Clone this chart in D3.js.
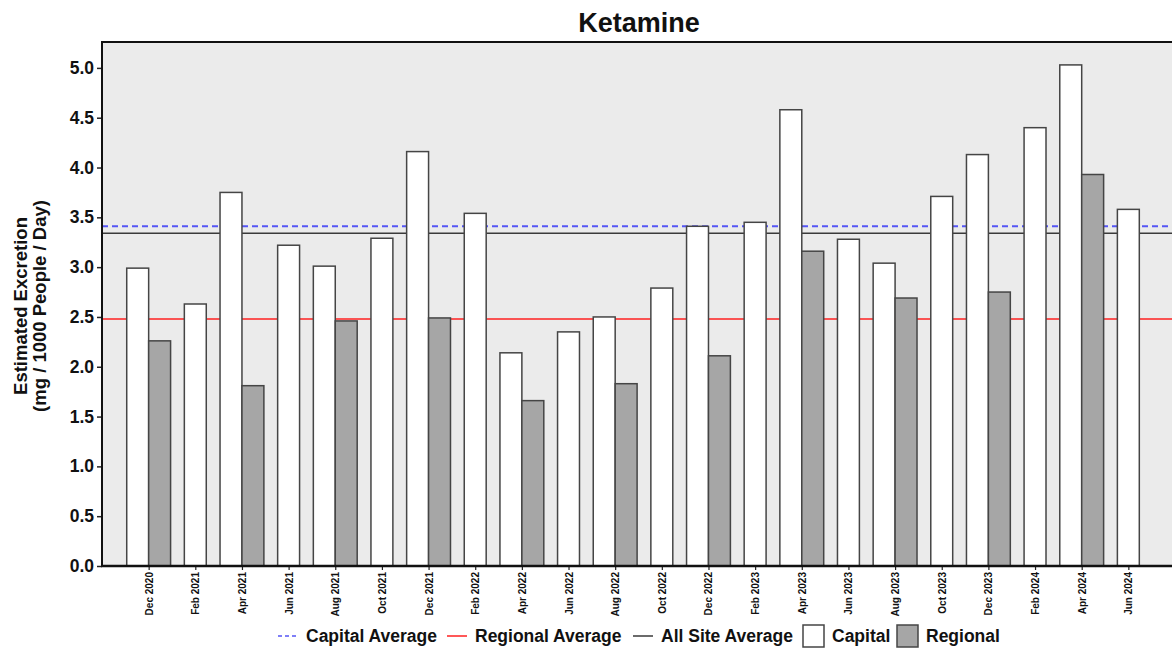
<!DOCTYPE html>
<html>
<head>
<meta charset="utf-8">
<script src="https://cdn.jsdelivr.net/npm/d3@7"></script>
<style>
  body { margin: 0; background: #fff; }
  text { font-family: "Liberation Sans", Arial, sans-serif; font-weight: bold; }
</style>
</head>
<body>
<div id="chart"></div>
<script>
// sampling periods (every two months)
var months = ["Dec 2020","Feb 2021","Apr 2021","Jun 2021","Aug 2021","Oct 2021","Dec 2021",
  "Feb 2022","Apr 2022","Jun 2022","Aug 2022","Oct 2022","Dec 2022","Feb 2023","Apr 2023",
  "Jun 2023","Aug 2023","Oct 2023","Dec 2023","Feb 2024","Apr 2024","Jun 2024"];

var capital = [2.99, 2.63, 3.75, 3.22, 3.01, 3.29, 4.16, 3.54, 2.14, 2.35, 2.50, 2.79,
  3.41, 3.45, 4.58, 3.28, 3.04, 3.71, 4.13, 4.40, 5.03, 3.58];

// regional sites only sampled every four months
var regional = [2.26, null, 1.81, null, 2.46, null, 2.49, null, 1.66, null, 1.83, null,
  2.11, null, 3.16, null, 2.69, null, 2.75, null, 3.93, null];

var capitalAvg = 3.41,
    regionalAvg = 2.48,
    allSiteAvg = 3.34;

var yTicks = [0, 0.5, 1, 1.5, 2, 2.5, 3, 3.5, 4, 4.5, 5];

var width = 1172, height = 648;
var margin = {top: 42, right: -3, bottom: 82, left: 102};

var svg = d3.select("#chart").append("svg")
    .attr("width", width)
    .attr("height", height);

var x = d3.scalePoint()
    .domain(months)
    .range([margin.left, width - margin.right])
    .padding(1);

var y = d3.scaleLinear()
    .domain([0, 5.26])
    .range([height - margin.bottom, margin.top]);

var bw = x.step() * 0.47;

// panel
svg.append("rect")
    .attr("x", margin.left)
    .attr("y", margin.top)
    .attr("width", width - margin.right - margin.left)
    .attr("height", y(0) - margin.top)
    .attr("fill", "#ebebeb");

// average lines (behind bars)
var lines = [
  {v: allSiteAvg, color: "#3a3a3a", dash: null, w: 1.5},
  {v: regionalAvg, color: "#ff2020", dash: null, w: 1.5},
  {v: capitalAvg, color: "#5555f5", dash: "6,4", w: 2}
];
svg.selectAll(".avg")
  .data(lines)
  .join("line")
    .attr("class", "avg")
    .attr("x1", margin.left)
    .attr("x2", width)
    .attr("y1", d => y(d.v))
    .attr("y2", d => y(d.v))
    .attr("stroke", d => d.color)
    .attr("stroke-width", d => d.w)
    .attr("stroke-dasharray", d => d.dash);

// bars
var bars = [];
months.forEach(function(m, i) {
  var paired = regional[i] != null;
  bars.push({m: m, v: capital[i], x0: paired ? x(m) - bw : x(m) - bw / 2, fill: "#ffffff"});
  if (paired) bars.push({m: m, v: regional[i], x0: x(m), fill: "#a6a6a6"});
});

svg.selectAll(".bar")
  .data(bars)
  .join("rect")
    .attr("class", "bar")
    .attr("x", d => d.x0)
    .attr("y", d => y(d.v))
    .attr("width", bw)
    .attr("height", d => y(0) - y(d.v))
    .attr("fill", d => d.fill)
    .attr("stroke", "#454545")
    .attr("stroke-width", 1.5);

// axes
svg.append("g")
    .attr("transform", `translate(${margin.left},0)`)
    .call(d3.axisLeft(y).tickValues(yTicks).tickFormat(d3.format(".1f")).tickSize(5).tickPadding(3))
    .call(g => g.select(".domain").remove())
    .call(g => g.selectAll("line").attr("stroke", "#222").attr("stroke-width", 1.5))
    .call(g => g.selectAll("text").style("font-size", "17.5px").attr("fill", "#111"));

svg.append("g")
    .attr("transform", `translate(0,${y(0)})`)
    .call(d3.axisBottom(x).tickSize(4).tickPadding(6))
    .call(g => g.select(".domain").remove())
    .call(g => g.selectAll("line").attr("stroke", "#222").attr("stroke-width", 1.2))
    .call(g => g.selectAll("text")
        .style("font-size", "10px")
        .attr("fill", "#111")
        .attr("transform", "rotate(-90)")
        .attr("text-anchor", "end")
        .attr("x", -6)
        .attr("y", 0)
        .attr("dy", "0.35em"));

// panel border lines
svg.append("line")
    .attr("x1", margin.left).attr("x2", width)
    .attr("y1", margin.top).attr("y2", margin.top)
    .attr("stroke", "#111").attr("stroke-width", 2);
svg.append("line")
    .attr("x1", margin.left).attr("x2", margin.left)
    .attr("y1", margin.top - 1).attr("y2", y(0))
    .attr("stroke", "#111").attr("stroke-width", 2);
svg.append("line")
    .attr("x1", margin.left - 1).attr("x2", width)
    .attr("y1", y(0)).attr("y2", y(0))
    .attr("stroke", "#111").attr("stroke-width", 2.5);

// title
svg.append("text")
    .attr("x", 639)
    .attr("y", 32)
    .attr("text-anchor", "middle")
    .style("font-size", "27px")
    .attr("fill", "#111")
    .text("Ketamine");

// y label
var yl = svg.append("text")
    .attr("transform", `translate(31,${(margin.top + y(0)) / 2 + 2}) rotate(-90)`)
    .attr("text-anchor", "middle")
    .style("font-size", "18.5px")
    .attr("fill", "#111");
yl.append("tspan").attr("x", 0).attr("dy", "-0.2em").text("Estimated Excretion");
yl.append("tspan").attr("x", 0).attr("dy", "1.0em").text("(mg / 1000 People / Day)");

// legend
var ly = 636;
var lineKeys = [
  {x: 278, color: "#5555f5", dash: "4,3", label: "Capital Average"},
  {x: 447, color: "#ff2020", dash: null, label: "Regional Average"},
  {x: 633, color: "#3a3a3a", dash: null, label: "All Site Average"}
];
var lk = svg.selectAll(".lkey").data(lineKeys).join("g").attr("class", "lkey");
lk.append("line")
    .attr("x1", d => d.x).attr("x2", d => d.x + 20)
    .attr("y1", ly).attr("y2", ly)
    .attr("stroke", d => d.color)
    .attr("stroke-width", 1.5)
    .attr("stroke-dasharray", d => d.dash);
lk.append("text")
    .attr("x", d => d.x + 28)
    .attr("y", ly)
    .attr("dy", "0.36em")
    .style("font-size", "17.5px")
    .attr("fill", "#111")
    .text(d => d.label);

var boxKeys = [
  {x: 803, fill: "#ffffff", label: "Capital"},
  {x: 897, fill: "#a6a6a6", label: "Regional"}
];
var bk = svg.selectAll(".bkey").data(boxKeys).join("g").attr("class", "bkey");
bk.append("rect")
    .attr("x", d => d.x).attr("y", ly - 11)
    .attr("width", 21).attr("height", 22)
    .attr("fill", d => d.fill)
    .attr("stroke", "#454545").attr("stroke-width", 1.5);
bk.append("text")
    .attr("x", d => d.x + 29)
    .attr("y", ly)
    .attr("dy", "0.36em")
    .style("font-size", "17.5px")
    .attr("fill", "#111")
    .text(d => d.label);
</script>
</body>
</html>
